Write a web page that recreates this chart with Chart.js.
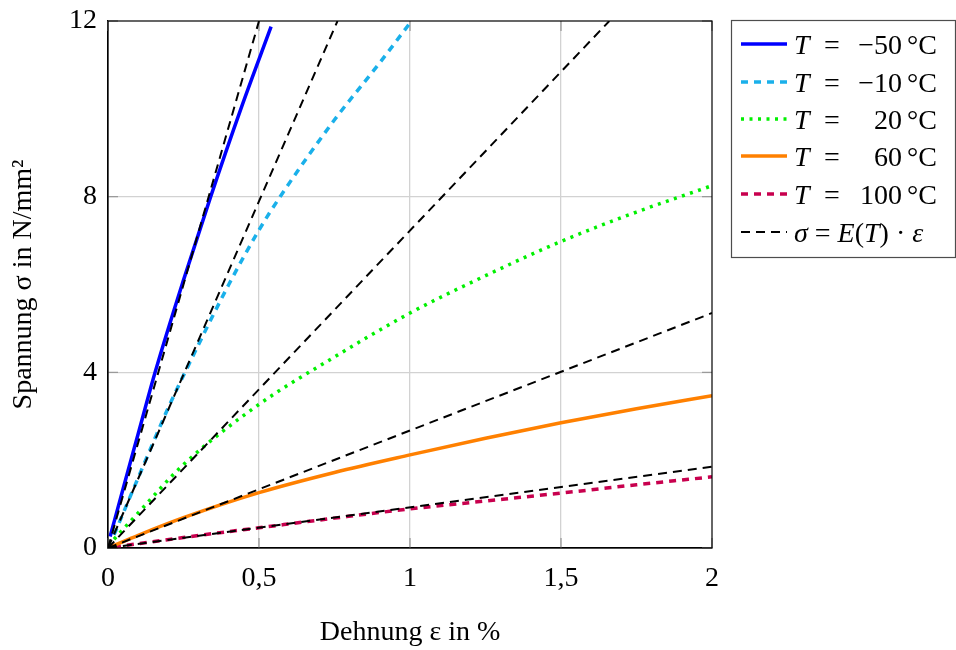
<!DOCTYPE html>
<html>
<head>
<meta charset="utf-8">
<script src="https://cdn.jsdelivr.net/npm/chart.js@4.4.1/dist/chart.umd.min.js"></script>
<style>
  html, body { margin: 0; padding: 0; background: #fff; }
</style>
</head>
<body>
<canvas id="stressStrain" width="956" height="650"></canvas>
<script>
"use strict";

// Strain in %, stress in N/mm^2
var temperatures = ["\u221250", "\u221210", "20", "60", "100"];

var strainM50 = [0.007, 0.05, 0.1, 0.156, 0.25, 0.34, 0.44, 0.54];
var stressM50 = [0.26, 1.35, 2.6, 4.0, 6.1, 8.0, 10.0, 11.87];

var strainM10 = [0.02, 0.1, 0.2, 0.255, 0.4, 0.5, 0.57, 0.75, 0.9, 1.005];
var stressM10 = [0.3, 1.6, 3.2, 4.0, 6.0, 7.24, 8.0, 9.75, 11.05, 12.0];

var strain20 = [0.02, 0.1, 0.25, 0.5, 0.75, 1, 1.25, 1.5, 1.75, 2];
var stress20 = [0.2, 0.8, 1.9, 3.27, 4.35, 5.35, 6.2, 6.98, 7.65, 8.25];

var strain60 = [0.01, 0.1, 0.25, 0.5, 0.75, 1, 1.25, 1.5, 1.75, 2];
var stress60 = [0.03, 0.29, 0.69, 1.26, 1.72, 2.12, 2.5, 2.85, 3.17, 3.47];

var strain100 = [0.02, 0.25, 0.5, 0.75, 1, 1.25, 1.5, 1.75, 2];
var stress100 = [0.02, 0.24, 0.46, 0.68, 0.89, 1.07, 1.25, 1.44, 1.62];

// sigma = E(T) * eps, straight lines from the origin to where they leave the plot
var refEndStrain = [0.5, 0.76, 1.66, 2, 2];
var refEndStress = [12, 12, 12, 5.35, 1.85];

var xTickValues = [0, 0.5, 1, 1.5, 2];
var xTickLabels = ["0", "0,5", "1", "1,5", "2"];
var yTickValues = [0, 4, 8, 12];
var yTickLabels = ["0", "4", "8", "12"];

var serif = "'Liberation Serif', 'DejaVu Serif', serif";

function toPoints(xs, ys) {
  return xs.map(function(x, i) { return {x: x, y: ys[i]}; });
}

var curveStyles = [
  {color: "#0000ff", dash: [], width: 3.5},
  {color: "#1ab0ea", dash: [7, 6], width: 3.5},
  {color: "#00f000", dash: [3, 5.5], width: 3.5},
  {color: "#ff8000", dash: [], width: 3.5},
  {color: "#c8004e", dash: [7, 6], width: 3.5}
];
var refStyle = {color: "#000000", dash: [9, 6], width: 2};

var curveData = [
  toPoints(strainM50, stressM50),
  toPoints(strainM10, stressM10),
  toPoints(strain20, stress20),
  toPoints(strain60, stress60),
  toPoints(strain100, stress100)
];

var datasets = [];
curveData.forEach(function(points, i) {
  datasets.push({
    label: "T = " + temperatures[i] + " \u00b0C",
    data: points,
    borderColor: curveStyles[i].color,
    borderDash: curveStyles[i].dash,
    borderWidth: curveStyles[i].width,
    cubicInterpolationMode: "monotone",
    pointRadius: 0,
    fill: false,
    order: 2
  });
});
refEndStrain.forEach(function(x, i) {
  datasets.push({
    label: i === 0 ? "\u03c3 = E(T) \u00b7 \u03b5" : "",
    data: [{x: 0, y: 0}, {x: x, y: refEndStress[i]}],
    borderColor: refStyle.color,
    borderDash: refStyle.dash,
    borderWidth: refStyle.width,
    pointRadius: 0,
    fill: false,
    order: 1
  });
});

function lookup(values, labels) {
  return function(value) {
    var idx = values.indexOf(value);
    return idx >= 0 ? labels[idx] : "";
  };
}

function gridColor(ctx) {
  var s = ctx.scale;
  if (ctx.tick.value === s.min || ctx.tick.value === s.max) return "rgba(0,0,0,0)";
  return "#d2d2d2";
}

// pgfplots-like frame with inward ticks on every side
var framePlugin = {
  id: "frame",
  beforeDatasetsDraw: function(chart) {
    var ctx = chart.ctx;
    var a = chart.chartArea;
    var xs = chart.scales.x;
    var ys = chart.scales.y;
    ctx.save();
    ctx.strokeStyle = "#9a9a9a";
    ctx.lineWidth = 1.3;
    ctx.beginPath();
    xTickValues.forEach(function(v) {
      var px = xs.getPixelForValue(v);
      ctx.moveTo(px, a.bottom);
      ctx.lineTo(px, a.bottom - 10);
      ctx.moveTo(px, a.top);
      ctx.lineTo(px, a.top + 10);
    });
    yTickValues.forEach(function(v) {
      var py = ys.getPixelForValue(v);
      ctx.moveTo(a.left, py);
      ctx.lineTo(a.left + 10, py);
      ctx.moveTo(a.right, py);
      ctx.lineTo(a.right - 10, py);
    });
    ctx.stroke();
    ctx.restore();
  },
  afterDatasetsDraw: function(chart) {
    var ctx = chart.ctx;
    var a = chart.chartArea;
    ctx.save();
    ctx.strokeStyle = "#000";
    ctx.lineWidth = 1.2;
    ctx.strokeRect(a.left, a.top, a.right - a.left, a.bottom - a.top);
    ctx.restore();
  }
};

// Legend box with mixed italic / upright math text
var legendPlugin = {
  id: "mathLegend",
  afterDraw: function(chart) {
    var ctx = chart.ctx;
    var box = {left: 731.5, top: 20.5, right: 955.5, bottom: 257.5};
    var rowY = [44, 82, 119, 156, 194, 232];
    var upright = "28px " + serif;
    var italic = "italic 28px " + serif;
    ctx.save();
    ctx.fillStyle = "#fff";
    ctx.fillRect(box.left, box.top, box.right - box.left, box.bottom - box.top);
    ctx.strokeStyle = "#4d4d4d";
    ctx.lineWidth = 1.2;
    ctx.strokeRect(box.left, box.top, box.right - box.left, box.bottom - box.top);

    function sample(y, style) {
      ctx.save();
      ctx.strokeStyle = style.color;
      ctx.lineWidth = style.width;
      ctx.setLineDash(style.dash);
      ctx.beginPath();
      ctx.moveTo(741, y);
      ctx.lineTo(787, y);
      ctx.stroke();
      ctx.restore();
    }

    function parts(x, y, list) {
      list.forEach(function(p) {
        ctx.font = p[1] ? italic : upright;
        ctx.fillText(p[0], x, y);
        x += ctx.measureText(p[0]).width;
      });
    }

    ctx.fillStyle = "#000";
    ctx.textBaseline = "alphabetic";
    temperatures.forEach(function(t, i) {
      var y = rowY[i];
      sample(y, curveStyles[i]);
      ctx.textAlign = "left";
      ctx.font = italic;
      ctx.fillText("T", 794, y + 10);
      ctx.font = upright;
      ctx.fillText("=", 824, y + 10);
      ctx.textAlign = "right";
      ctx.fillText(t, 902, y + 10);
      ctx.textAlign = "left";
      ctx.fillText("\u00b0C", 907, y + 10);
    });
    sample(rowY[5], refStyle);
    ctx.textAlign = "left";
    parts(794, rowY[5] + 10, [
      ["\u03c3", true], [" = ", false], ["E", true], ["(", false],
      ["T", true], [") \u00b7 ", false], ["\u03b5", true]
    ]);
    ctx.restore();
  }
};

new Chart(document.getElementById("stressStrain"), {
  type: "line",
  data: {datasets: datasets},
  plugins: [framePlugin, legendPlugin],
  options: {
    responsive: false,
    devicePixelRatio: 1,
    animation: false,
    layout: {padding: {left: 0, right: 244, top: 21, bottom: 0}},
    plugins: {
      legend: {display: false},
      tooltip: {enabled: false}
    },
    scales: {
      x: {
        type: "linear",
        min: 0,
        max: 2,
        afterBuildTicks: function(scale) {
          scale.ticks = xTickValues.map(function(v) { return {value: v}; });
        },
        afterFit: function(scale) {
          scale.height = 102;
          scale.paddingLeft = 0;
          scale.paddingRight = 0;
        },
        ticks: {
          callback: lookup(xTickValues, xTickLabels),
          font: {family: serif, size: 28},
          color: "#000",
          padding: 14,
          maxRotation: 0
        },
        grid: {color: gridColor, lineWidth: 1.3, drawTicks: false},
        border: {display: true, color: "#000", width: 1.2},
        title: {
          display: true,
          text: "Dehnung \u03b5 in %",
          font: {family: serif, size: 28},
          color: "#000",
          padding: {top: 0, bottom: 1}
        }
      },
      y: {
        type: "linear",
        min: 0,
        max: 12,
        afterBuildTicks: function(scale) {
          scale.ticks = yTickValues.map(function(v) { return {value: v}; });
        },
        afterFit: function(scale) {
          scale.width = 108;
          scale.paddingTop = 0;
          scale.paddingBottom = 0;
        },
        ticks: {
          callback: lookup(yTickValues, yTickLabels),
          font: {family: serif, size: 28},
          color: "#000",
          padding: 11
        },
        grid: {color: gridColor, lineWidth: 1.3, drawTicks: false},
        border: {display: true, color: "#000", width: 1.2},
        title: {
          display: true,
          text: "Spannung \u03c3 in N/mm\u00b2",
          font: {family: serif, size: 28},
          color: "#000",
          padding: {top: 7, bottom: 0}
        }
      }
    }
  }
});
</script>
</body>
</html>
